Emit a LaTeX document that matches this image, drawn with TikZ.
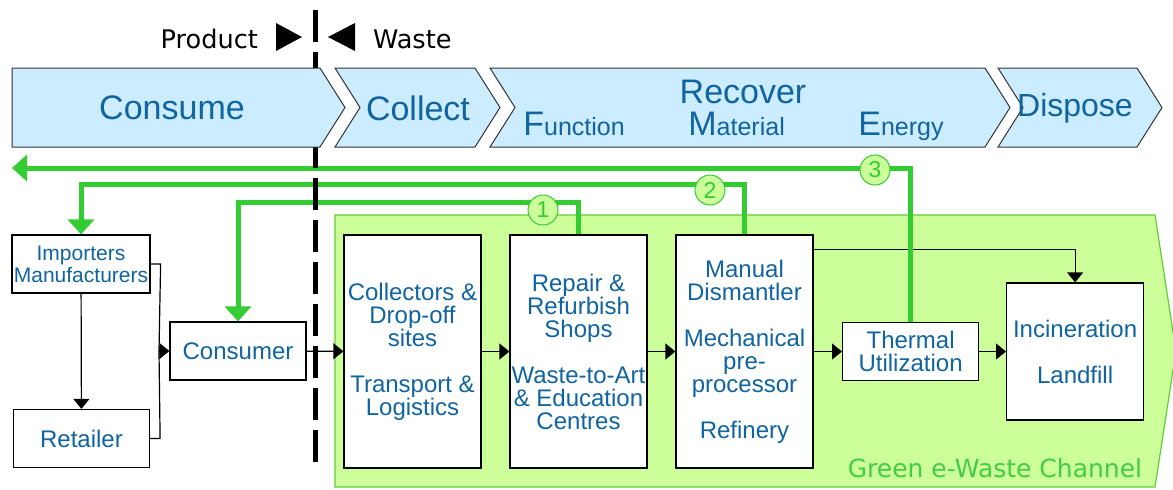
\documentclass[tikz,border=0pt]{standalone}
\usepackage{fontspec}
\setmainfont{Liberation Sans}
\newfontfamily\verdana{DejaVu Sans}
\usetikzlibrary{arrows.meta,positioning}

\definecolor{chevblue}{RGB}{204,236,255}
\definecolor{txtblue}{RGB}{16,100,160}
\definecolor{chanfill}{RGB}{204,255,153}
\definecolor{chanline}{RGB}{102,204,51}
\definecolor{loopgreen}{RGB}{51,204,51}
\definecolor{labgreen}{RGB}{68,204,68}

\newcommand{\chevron}[3][25]{%
	\def\tip{25} % depth of the chevron tip (px)
	\draw[chev] (#2,68) -- (#3,68) -- ++(\tip,39.5) -- ++(-\tip,39.5) -- (#2,147) -- ++(#1,-39.5) -- cycle;
}

\begin{document}
\begin{tikzpicture}[x=0.5pt, y=-0.5pt, font=\fontsize{12}{11.5}\selectfont,
	chev/.style={draw=black!80, fill=chevblue, line width=0.5pt},
	toptext/.style={text=txtblue, font=\fontsize{17}{20}\selectfont},
	stagebox/.style={draw, fill=white, line width=0.6pt, text=txtblue, align=center, inner sep=0pt},
	small/.style={minimum width=68pt, minimum height=29pt},
	tall/.style={minimum width=68.5pt, minimum height=116.5pt},
	flow/.style={-{Triangle[length=5pt,width=8pt]}, line width=0.6pt},
	backflow/.style={draw=loopgreen, line width=2.5pt, -{Triangle[length=7.5pt,width=13pt]}},
	num/.style={circle, draw=loopgreen, fill=chanfill, text=loopgreen, minimum size=15pt, inner sep=0pt, line width=0.5pt, font=\fontsize{11.5}{11.5}\selectfont}]
	\useasboundingbox (0,0) rectangle (1173,489);
	
	%--- Green e-Waste Channel ---
	\draw[draw=chanline, fill=chanfill, line width=0.6pt] (335,215) -- (1155,215) -- (1176,351) -- (1155,487) -- (335,487) -- cycle;
	\node[text=labgreen, font=\verdana\fontsize{12.5}{12.5}\selectfont] (chlabel) at (995,468) {Green e-Waste Channel};
	
	%--- consume side ---
	\node[stagebox, minimum width=69pt, minimum height=29pt, font=\fontsize{10.5}{11}\selectfont] (imp) at (81,264) {Importers\\Manufacturers};
	\node[stagebox, small] (ret) at (81.5,438.5) {Retailer};
	\node[stagebox, small] (cons) at (238,351) {Consumer};
	
	%--- channel stages ---
	\node[stagebox, tall] (coll) at (412.5,351.5) {Collectors \&\\Drop-off\\sites\\[11.5pt]Transport \&\\Logistics};
	\node[stagebox, tall, right=13.9pt of coll] (rep) {Repair \&\\Refurbish\\Shops\\[11.5pt]Waste-to-Art\\\& Education\\Centres};
	\node[stagebox, tall, right=13.9pt of rep] (man) {Manual\\Dismantler\\[11.5pt]Mechanical\\pre-\\processor\\[11.5pt]Refinery};
	\node[stagebox, small, right=14.2pt of man] (therm) {Thermal\\Utilization};
	\node[stagebox, minimum width=68.5pt, minimum height=68.5pt, right=13.4pt of therm] (inc) {Incineration\\[11.5pt]Landfill};
	
	%--- product flow ---
	\coordinate (join) at (159,351);
	\draw[flow] (imp) -- (ret);
	\draw[line width=0.6pt] (imp.east) -- ++(10,0) -- (join);
	\draw[line width=0.6pt] (ret.east) -- ++(10,0) -- (join);
	\draw[flow] (join) -- (cons.west);
	\draw[flow] (cons) -- (coll);
	\draw[flow] (coll) -- (rep);
	\draw[flow] (rep) -- (man);
	\draw[flow] (man.east |- therm.west) -- (therm);
	\draw[flow] (therm) -- (inc);
	\draw[flow] ([yshift=-7.5pt]man.north east) -| (inc.north);
	
	%--- recovery loops ---
	\coordinate (back) at (12,168);
	\draw[backflow] (therm.north) |- (back);
	\draw[backflow] (man.north) -- ++(0,-50) -| (imp.north);
	\draw[backflow] (rep.north) -- ++(0,-32) -| (cons.north);
	\node[num] (one) at (543,210) {1};
	\node[num] (two) at (710,190) {2};
	\node[num] (three) at (875,170) {3};
	
	%--- product / waste border ---
	\draw[line width=2.5pt, dash pattern=on 16pt off 5pt] (315,10) -- (315,464);
	\node[anchor=base east, font=\verdana\fontsize{12.8}{13}\selectfont] (product) at (265,48) {Product};
	\fill (276,23) -- (302,37) -- (276,51) -- cycle;
	\fill (355,23) -- (328,37) -- (355,51) -- cycle;
	\node[anchor=base west, font=\verdana\fontsize{12.8}{13}\selectfont] (waste) at (366,48) {Waste};
	
	%--- life cycle phases ---
	\chevron[0]{12}{320}
	\chevron{335}{475}
	\chevron{490}{985}
	\chevron{998}{1137}
	\node[toptext] (consume) at (172,108) {Consume};
	\node[toptext] (collect) at (418,108) {Collect};
	\node[toptext] (recover) at (743,92) {Recover};
	\node[toptext, anchor=base west, inner sep=0pt] (function) at (523,135) {F{\fontsize{12.5}{13}\selectfont unction}};
	\node[toptext, anchor=base west, inner sep=0pt] (material) at (688,135) {M{\fontsize{12.5}{13}\selectfont aterial}};
	\node[toptext, anchor=base west, inner sep=0pt] (energy) at (858,135) {E{\fontsize{12.5}{13}\selectfont nergy}};
	\node[toptext, font=\fontsize{16}{20}\selectfont] (dispose) at (1075,108) {Dispose};
\end{tikzpicture}
\end{document}
